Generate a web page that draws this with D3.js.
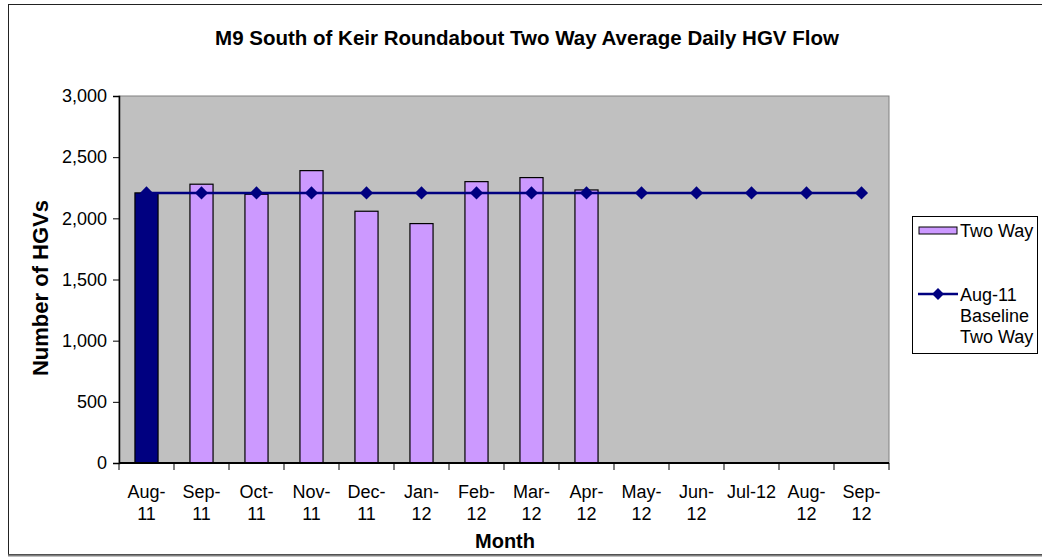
<!DOCTYPE html>
<html lang="en">
<head>
  <meta charset="UTF-8">
  <title>M9 South of Keir Roundabout</title>
  <script src="https://cdn.jsdelivr.net/npm/d3@7"></script>
  <style>
    body { margin: 0; background: #fff; }
    text { font-family: "Liberation Sans", Arial, sans-serif; fill: #000; }
  </style>
</head>
<body>
  <div id="grafica"></div>

  <script>
    // data
    months = ['Aug-11', 'Sep-11', 'Oct-11', 'Nov-11', 'Dec-11', 'Jan-12', 'Feb-12',
              'Mar-12', 'Apr-12', 'May-12', 'Jun-12', 'Jul-12', 'Aug-12', 'Sep-12']
    tickLabels = [['Aug-', '11'], ['Sep-', '11'], ['Oct-', '11'], ['Nov-', '11'], ['Dec-', '11'],
                  ['Jan-', '12'], ['Feb-', '12'], ['Mar-', '12'], ['Apr-', '12'], ['May-', '12'],
                  ['Jun-', '12'], ['Jul-12'], ['Aug-', '12'], ['Sep-', '12']]
    twoWay = [2208, 2279, 2197, 2390, 2058, 1957, 2300, 2333, 2232, null, null, null, null, null]
    baseline = [2208, 2208, 2208, 2208, 2208, 2208, 2208, 2208, 2208, 2208, 2208, 2208, 2208, 2208]
    yTicks = [0, 500, 1000, 1500, 2000, 2500, 3000]

    ancho = 1042
    alto = 557
    m = { left: 119, right: 889, top: 96, bottom: 463 }

    svg = d3.select('#grafica')
      .append('svg')
      .attr('width', ancho)
      .attr('height', alto)

    // outer chart frame
    svg.append('rect')
      .attr('x', 8.5).attr('y', 4.5)
      .attr('width', 1040).attr('height', 550)
      .attr('fill', '#fff')
      .attr('stroke', '#222')
    svg.append('line')
      .attr('x1', 8).attr('x2', 1042).attr('y1', 555.5).attr('y2', 555.5)
      .attr('stroke', '#808080').attr('stroke-width', 2)

    x = d3.scaleBand()
      .domain(months)
      .range([m.left, m.right])
      .paddingInner(0.58)
      .paddingOuter(0.29)
    y = d3.scaleLinear()
      .domain([0, 3000])
      .range([m.bottom, m.top])

    // plot area
    svg.append('rect')
      .attr('x', m.left).attr('y', m.top)
      .attr('width', m.right - m.left).attr('height', m.bottom - m.top)
      .attr('fill', '#c0c0c0')
      .attr('stroke', '#808080')

    // bars
    svg.selectAll('rect.bar')
      .data(months.map((d, i) => ({ m: d, v: twoWay[i], i: i })).filter(d => d.v != null))
      .enter()
      .append('rect')
      .attr('class', 'bar')
      .attr('x', d => x(d.m))
      .attr('y', d => y(d.v))
      .attr('width', x.bandwidth())
      .attr('height', d => y(0) - y(d.v))
      .attr('fill', d => d.i == 0 ? '#000080' : '#cc99ff')
      .attr('stroke', '#000')
      .attr('stroke-width', 1.2)

    // axes
    yAxis = svg.append('g')
      .attr('transform', 'translate(' + m.left + ',0)')
      .call(d3.axisLeft(y).tickValues(yTicks).tickSize(6).tickPadding(6)
        .tickFormat(d3.format(',')))
    yAxis.selectAll('text').attr('font-size', 18).style('font-family', 'Liberation Sans, Arial')
    yAxis.select('.domain').attr('stroke', '#000').attr('stroke-width', 1.5)

    step = x.step()
    bounds = d3.range(months.length + 1).map(i => m.left + i * step)
    xg = svg.append('g')
    xg.append('line')
      .attr('x1', m.left).attr('x2', m.right)
      .attr('y1', m.bottom).attr('y2', m.bottom)
      .attr('stroke', '#000').attr('stroke-width', 2)
    xg.selectAll('line.tick')
      .data(bounds)
      .enter()
      .append('line')
      .attr('class', 'tick')
      .attr('x1', d => d).attr('x2', d => d)
      .attr('y1', m.bottom).attr('y2', m.bottom + 7)
      .attr('stroke', '#000')

    xg.selectAll('text.lbl')
      .data(months)
      .enter()
      .append('text')
      .attr('class', 'lbl')
      .attr('text-anchor', 'middle')
      .attr('font-size', 18)
      .attr('x', d => x(d) + x.bandwidth() / 2)
      .attr('y', 498)
      .each(function(d, i) {
        t = d3.select(this)
        tickLabels[i].forEach(function(s, j) {
          t.append('tspan')
            .attr('x', x(d) + x.bandwidth() / 2)
            .attr('dy', j == 0 ? 0 : 22)
            .text(s)
        })
      })

    // baseline series
    line = d3.line()
      .x((d, i) => x(months[i]) + x.bandwidth() / 2)
      .y(d => y(d))
    svg.append('path')
      .datum(baseline)
      .attr('d', line)
      .attr('fill', 'none')
      .attr('stroke', '#000080')
      .attr('stroke-width', 2.5)
    svg.selectAll('path.mk')
      .data(baseline)
      .enter()
      .append('path')
      .attr('class', 'mk')
      .attr('d', d3.symbol().type(d3.symbolDiamond2).size(110))
      .attr('transform', (d, i) => 'translate(' + (x(months[i]) + x.bandwidth() / 2) + ',' + y(d) + ')')
      .attr('fill', '#000080')

    // titles
    svg.append('text')
      .attr('x', 527).attr('y', 45)
      .attr('text-anchor', 'middle')
      .attr('font-size', 20.5).attr('font-weight', 'bold')
      .text('M9 South of Keir Roundabout Two Way Average Daily HGV Flow')
    svg.append('text')
      .attr('x', 505).attr('y', 548)
      .attr('text-anchor', 'middle')
      .attr('font-size', 20).attr('font-weight', 'bold')
      .text('Month')
    svg.append('text')
      .attr('transform', 'translate(48,288) rotate(-90)')
      .attr('text-anchor', 'middle')
      .attr('font-size', 22).attr('font-weight', 'bold')
      .text('Number of HGVs')

    // legend
    lg = svg.append('g')
    lg.append('rect')
      .attr('x', 912.5).attr('y', 216.5)
      .attr('width', 125).attr('height', 137)
      .attr('fill', '#fff').attr('stroke', '#000')
    lg.append('rect')
      .attr('x', 919).attr('y', 227)
      .attr('width', 38).attr('height', 7)
      .attr('fill', '#cc99ff').attr('stroke', '#000')
    lg.append('text')
      .attr('x', 960).attr('y', 237)
      .attr('font-size', 18)
      .text('Two Way')
    lg.append('line')
      .attr('x1', 918).attr('x2', 958)
      .attr('y1', 294).attr('y2', 294)
      .attr('stroke', '#000080').attr('stroke-width', 2.5)
    lg.append('path')
      .attr('d', d3.symbol().type(d3.symbolDiamond2).size(90))
      .attr('transform', 'translate(938,294)')
      .attr('fill', '#000080')
    lg.append('text')
      .attr('font-size', 18)
      .selectAll('tspan')
      .data(['Aug-11', 'Baseline', 'Two Way'])
      .enter()
      .append('tspan')
      .attr('x', 960)
      .attr('y', (d, i) => 301 + i * 21)
      .text(d => d)
  </script>
</body>
</html>
